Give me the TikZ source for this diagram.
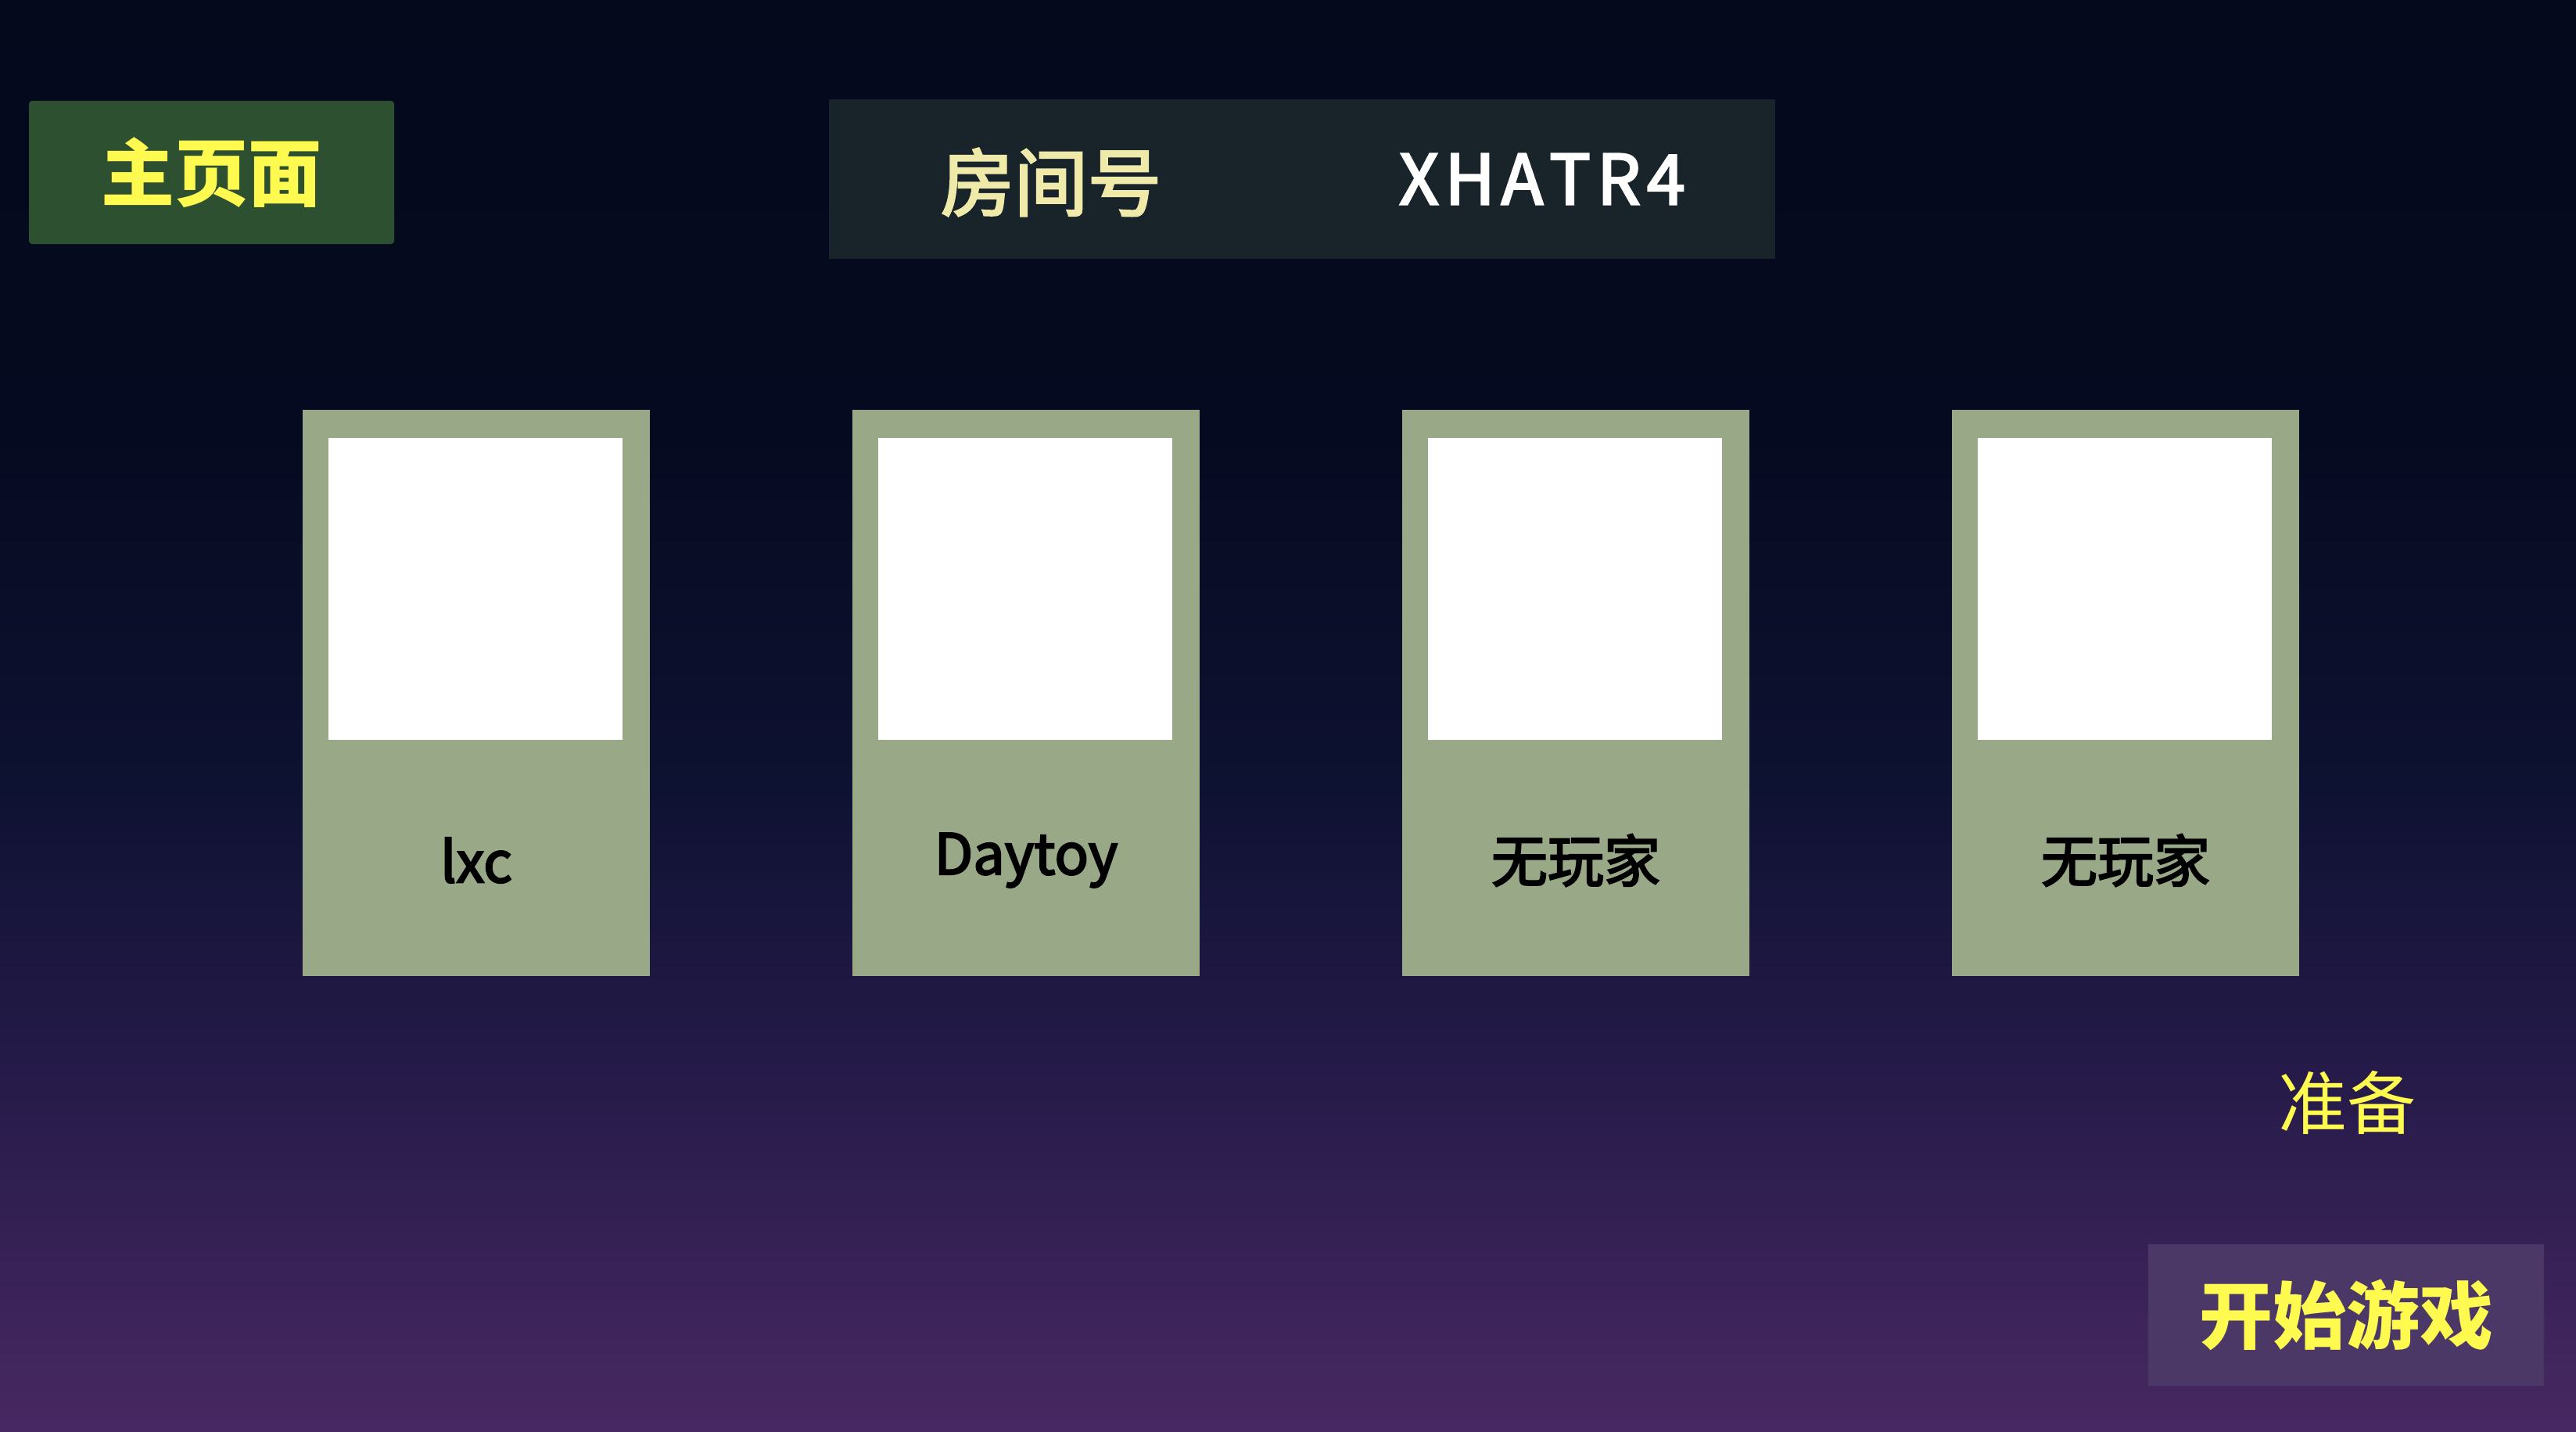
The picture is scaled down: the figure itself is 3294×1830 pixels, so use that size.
\documentclass[tikz,border=0pt]{standalone}
\usepackage{fontspec}
\setmainfont{Noto Sans CJK SC}
\newfontfamily\cjk{Noto Sans CJK SC}
\newfontfamily\cjkmed{Noto Sans CJK SC}[FakeBold=3]
\definecolor{bgtop}{RGB}{4,9,28}
\definecolor{bgA}{RGB}{6,10,32}
\definecolor{bgmid}{RGB}{14,18,50}
\definecolor{bgB}{RGB}{36,26,72}
\definecolor{bgbot}{RGB}{72,40,98}
\definecolor{homegreen}{RGB}{45,80,48}
\definecolor{roombox}{RGB}{24,36,42}
\definecolor{txtyellow}{RGB}{255,250,80}
\definecolor{paleyellow}{RGB}{240,234,170}
\definecolor{cardgreen}{RGB}{153,168,134}
\definecolor{startbox}{RGB}{76,56,102}
\pgfdeclareverticalshading{bgshade}{100bp}{color(0bp)=(bgbot); color(25bp)=(bgbot); color(38bp)=(bgB); color(47.5bp)=(bgmid); color(60bp)=(bgA); color(75bp)=(bgtop); color(100bp)=(bgtop)}
\tikzset{
  every node/.style={inner sep=0pt,outer sep=0pt},
  card/.style={fill=cardgreen,minimum width=444*0.25pt,minimum height=724*0.25pt,anchor=north west},
  photo/.style={fill=white,minimum width=376*0.25pt,minimum height=386*0.25pt,anchor=north west},
  cardlabel/.style={font=\cjkmed\fontsize{18}{18}\selectfont,text=black},
  bigyellow/.style={font=\cjk\bfseries\fontsize{23.5}{23.5}\selectfont,text=txtyellow},
}
\begin{document}
\begin{tikzpicture}[x=0.25pt,y=-0.25pt]
\useasboundingbox (0,0) rectangle (3294,1830);
\shade[shading=bgshade] (0,0) rectangle (3294,1830);
% home button
\node[fill=homegreen,minimum width=467*0.25pt,minimum height=183*0.25pt,anchor=north west,rounded corners=1pt] (home) at (37,129) {};
\node[bigyellow] (hometxt) at (home.center) {主页面};
% room box
\node[fill=roombox,minimum width=1210*0.25pt,minimum height=204*0.25pt,anchor=north west] (room) at (1060,127) {};
\node[font=\cjkmed\fontsize{23.5}{23.5}\selectfont,text=paleyellow] (roomlbl) at (1344,233) {房间号};
\node[font=\cjkmed\fontsize{22}{22}\selectfont,text=white] (roomid) at (1972,229) {X\kern2ptH\kern2ptA\kern2ptT\kern2ptR\kern2pt4};
% cards
\foreach \i/\x/\name in {1/387/lxc,2/1090/Daytoy,3/1793/无玩家,4/2496/无玩家}{
  \node[card] (card\i) at (\x,524) {};
  \node[photo] (photo\i) at (\x+33,560) {};
  \node[cardlabel] (label\i) at (\x+222,1100) {\name};
}
% ready
\node[font=\cjk\fontsize{22}{22}\selectfont,text=txtyellow] (ready) at (3001,1410) {准备};
% start button
\node[fill=startbox,minimum width=506*0.25pt,minimum height=181*0.25pt,anchor=north west] (start) at (2747,1591) {};
\node[bigyellow] (starttxt) at (start.center) {开始游戏};
\end{tikzpicture}
\end{document}
